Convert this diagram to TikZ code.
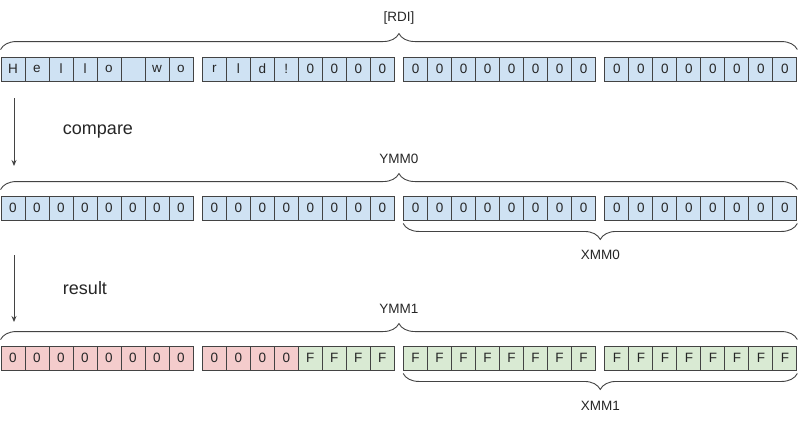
\documentclass[tikz,border=0pt]{standalone}
\usepackage{fontspec}
\setmainfont{Liberation Sans}
\usetikzlibrary{arrows.meta,decorations.pathreplacing}
\definecolor{cellblue}{HTML}{CFE2F3}
\definecolor{cellred}{HTML}{F4CCCC}
\definecolor{cellgreen}{HTML}{D9EAD3}
\definecolor{linegray}{HTML}{434343}

\begin{document}
\begin{tikzpicture}[x=1pt,y=-1pt,
  cell/.style={draw=linegray,line width=.9pt,minimum width=24pt,minimum height=24pt,inner sep=0pt,text=black!85,font=\fontsize{13.5}{15}\selectfont},
  brc/.style={decorate,decoration={brace,amplitude=16pt},draw=linegray,line width=.9pt},
  mbrc/.style={decorate,decoration={brace,amplitude=16pt,mirror},draw=linegray,line width=.9pt},
  lbl/.style={text=black!85,font=\fontsize{13.5}{15}\selectfont},
  big/.style={text=black!85,font=\fontsize{18}{20}\selectfont},
  arr/.style={-{Stealth[length=6pt,width=5pt]},draw=linegray,line width=.9pt}]
\useasboundingbox(0,0)rectangle(798,424);
% row 1: string at [RDI]
\foreach\t[count=\i from 0]in{H,e,l,l,o,{},w,o,r,l,d,!,0,0,0,0,0,0,0,0,0,0,0,0,0,0,0,0,0,0,0,0}{
  \pgfmathsetmacro\cx{13+int(\i/8)*201.3+mod(\i,8)*24}
  \node[cell,fill=cellblue](a\i)at(\cx,69){\t};}
% row 2: YMM0
\foreach\i in{0,...,31}{
  \pgfmathsetmacro\cx{13+int(\i/8)*201.3+mod(\i,8)*24}
  \node[cell,fill=cellblue](b\i)at(\cx,208){0};}
% row 3: YMM1
\foreach\i in{0,...,31}{
  \pgfmathsetmacro\cx{13+int(\i/8)*201.3+mod(\i,8)*24}
  \ifnum\i<12 \def\t{0}\def\fc{cellred}\else\def\t{F}\def\fc{cellgreen}\fi
  \node[cell,fill=\fc](c\i)at(\cx,358){\t};}
% braces
\draw[brc]([yshift=7pt]a0.north west)--([yshift=7pt]a31.north east)node[lbl,midway,yshift=32pt](rdi){[RDI]};
\draw[brc]([yshift=6pt]b0.north west)--([yshift=6pt]b31.north east)node[lbl,midway,yshift=31pt](ymm0){YMM0};
\draw[mbrc]([yshift=-3pt]b16.south west)--([yshift=-3pt]b31.south east)node[lbl,midway,yshift=-31pt](xmm0){XMM0};
\draw[brc]([yshift=6pt]c0.north west)--([yshift=6pt]c31.north east)node[lbl,midway,yshift=31pt](ymm1){YMM1};
\draw[mbrc]([yshift=-3pt]c16.south west)--([yshift=-3pt]c31.south east)node[lbl,midway,yshift=-32pt](xmm1){XMM1};
% steps
\coordinate(cmpS)at(14,98);\coordinate(cmpE)at(14,166);\draw[arr](cmpS)--(cmpE);
\node[big](cmp)at(98,132){compare};
\coordinate(resS)at(14,255);\coordinate(resE)at(14,322);\draw[arr](resS)--(resE);
\node[big](res)at(85,288){result};
\end{tikzpicture}
\end{document}
